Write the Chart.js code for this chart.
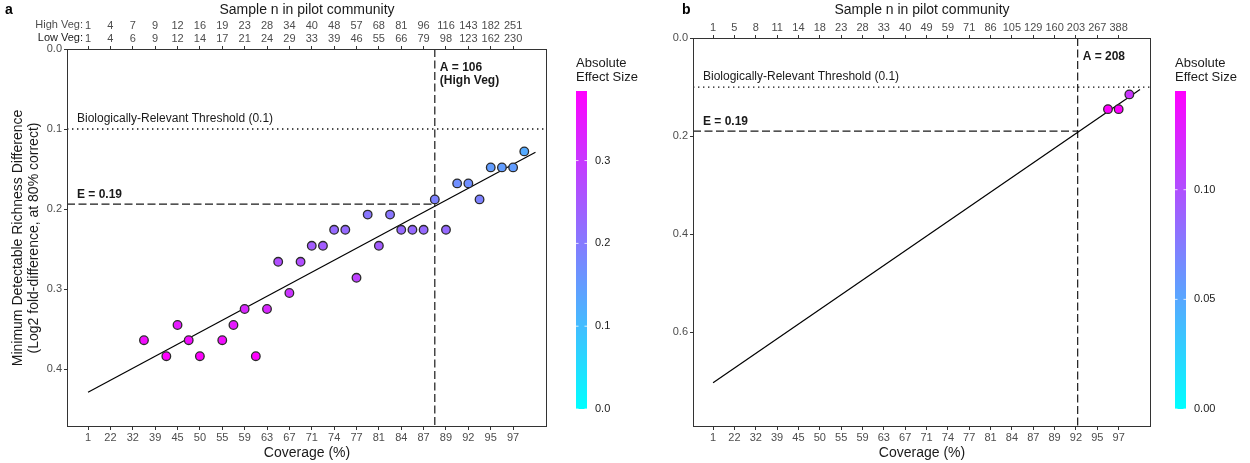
<!DOCTYPE html>
<html>
<head>
<meta charset="utf-8">
<script src="https://cdn.jsdelivr.net/npm/chart.js@4.4.1/dist/chart.umd.min.js"></script>
<style>
  html, body { margin: 0; padding: 0; background: #fff; }
  #wrap { position: relative; width: 1250px; height: 463px; overflow: hidden; }
  #panelA { position: absolute; left: 0; top: 0; }
  #panelB { position: absolute; left: 640px; top: 0; }
</style>
</head>
<body>
<div id="wrap">
  <canvas id="panelA" width="660" height="463"></canvas>
  <canvas id="panelB" width="610" height="463"></canvas>
</div>
<script>
// tick positions (sampling-level index) shared by both panels
const tickIndex = [1, 3, 5, 7, 9, 11, 13, 15, 17, 19, 21, 23, 25, 27, 29, 31, 33, 35, 37, 39];
const coverageLabels = ['1', '22', '32', '39', '45', '50', '55', '59', '63', '67', '71', '74', '77', '81', '84', '87', '89', '92', '95', '97'];
const highVegLabels = ['1', '4', '7', '9', '12', '16', '19', '23', '28', '34', '40', '48', '57', '68', '81', '96', '116', '143', '182', '251'];
const lowVegLabels = ['1', '4', '6', '9', '12', '14', '17', '21', '24', '29', '33', '39', '46', '55', '66', '79', '98', '123', '162', '230'];
const pilotLabelsB = ['1', '5', '8', '11', '14', '18', '23', '28', '33', '40', '49', '59', '71', '86', '105', '129', '160', '203', '267', '388'];

// panel a
const indexA = [6, 8, 9, 10, 11, 13, 14, 15, 16, 17, 18, 19, 20, 21, 22, 23, 24, 25, 26, 27, 28, 29, 30, 31, 32, 33, 34, 35, 36, 37, 38, 39, 40];
const mddA = [0.364, 0.384, 0.345, 0.364, 0.384, 0.364, 0.345, 0.325, 0.384, 0.325, 0.266, 0.305, 0.266, 0.246, 0.246, 0.226, 0.226, 0.286, 0.207, 0.246, 0.207, 0.226, 0.226, 0.226, 0.188, 0.226, 0.168, 0.168, 0.188, 0.148, 0.148, 0.148, 0.128];
const fitXA = [1, 41];
const fitYA = [0.429, 0.129];
const yTicksA = [0.0, 0.1, 0.2, 0.3, 0.4];
const colorTicksA = [0.0, 0.1, 0.2, 0.3];
const eValueA = 0.194;
const aIndexA = 32;

// panel b
const indexB = [38, 39, 40];
const mddB = [0.145, 0.145, 0.115];
const fitXB = [1, 41];
const fitYB = [0.703, 0.105];
const yTicksB = [0.0, 0.2, 0.4, 0.6];
const colorTicksB = [0.00, 0.05, 0.10];
const eValueB = 0.19;
const aIndexB = 35.16;

const threshold = 0.1;
const X_MIN = -0.88, X_MAX = 42.03;
const FONT = '"Liberation Sans", Arial, Helvetica, sans-serif';

// cyan -> magenta gradient
function effectColor(t) {
  t = Math.min(1, Math.max(0, t));
  return 'rgb(' + Math.round(255 * t) + ',' + Math.round(255 * (1 - t)) + ',255)';
}

// box, annotations, colour bar
const panelDecor = {
  id: 'panelDecor',
  afterDatasetsDraw(chart, args, opts) {
    const ctx = chart.ctx, area = chart.chartArea;
    const xs = chart.scales.x, ys = chart.scales.y;
    ctx.save();
    ctx.strokeStyle = '#333';
    ctx.lineWidth = 1;
    ctx.strokeRect(area.left + 0.5, area.top + 0.5, area.right - area.left - 1, area.bottom - area.top - 1);

    ctx.fillStyle = '#1a1a1a';
    ctx.textAlign = 'left';
    ctx.textBaseline = 'middle';
    ctx.font = '12px ' + FONT;
    ctx.fillText('Biologically-Relevant Threshold (0.1)', area.left + 10, ys.getPixelForValue(threshold) - 10.5);
    ctx.font = 'bold 12px ' + FONT;
    ctx.fillText(opts.eText, area.left + 10, ys.getPixelForValue(opts.eValue) - 10);
    const ax = xs.getPixelForValue(opts.aIndex) + 5;
    opts.aText.forEach((t, i) => ctx.fillText(t, ax, area.top + 19 + i * 13));
    ctx.restore();
  },
  afterDraw(chart, args, opts) {
    const ctx = chart.ctx;
    ctx.save();
    // panel letter
    ctx.fillStyle = '#000';
    ctx.font = 'bold 14px ' + FONT;
    ctx.textAlign = 'left';
    ctx.textBaseline = 'middle';
    ctx.fillText(opts.letter, opts.letterX, 10);

    // top axis row names
    if (opts.rowNames.length) {
      const x0 = chart.scales.x2.getPixelForValue(tickIndex[0]) - 5;
      ctx.font = '11px ' + FONT;
      ctx.textAlign = 'right';
      opts.rowNames.forEach((t, i) => {
        ctx.fillStyle = opts.rowColors[i];
        ctx.fillText(t, x0, opts.rowY[i]);
      });
    }

    // colour bar
    const bx = opts.barX, bw = 11, top = 91, bottom = 409;
    for (let y = top; y < bottom; y++) {
      const t = (bottom - y - 0.5) / (bottom - top);
      ctx.fillStyle = effectColor(t);
      ctx.fillRect(bx, y, bw, 1);
    }
    ctx.font = '11px ' + FONT;
    ctx.textAlign = 'left';
    ctx.textBaseline = 'middle';
    opts.colorTicks.forEach(v => {
      const y = bottom - v / opts.colorMax * (bottom - top);
      ctx.strokeStyle = 'rgba(255,255,255,0.8)';
      ctx.lineWidth = 1;
      ctx.beginPath();
      ctx.moveTo(bx, y); ctx.lineTo(bx + 2.5, y);
      ctx.moveTo(bx + bw - 2.5, y); ctx.lineTo(bx + bw, y);
      ctx.stroke();
      ctx.fillStyle = '#1a1a1a';
      ctx.fillText(v.toFixed(opts.colorDigits), bx + bw + 8, y);
    });
    ctx.font = '13px ' + FONT;
    ctx.fillStyle = '#1a1a1a';
    ctx.fillText('Absolute', bx, 63);
    ctx.fillText('Effect Size', bx, 77);
    ctx.restore();
  }
};

function makePanel(canvasId, p) {
  const cmax = Math.max(...p.mdd);
  const tickFont = { family: FONT, size: 11 };
  const lineStyle = { showLine: true, pointRadius: 0, fill: false, order: 1 };
  new Chart(document.getElementById(canvasId), {
    type: 'scatter',
    data: {
      datasets: [
        {
          data: p.index.map((x, i) => ({ x: x, y: p.mdd[i] })),
          pointRadius: 4.3,
          pointBackgroundColor: p.mdd.map(v => effectColor(v / cmax)),
          pointBorderColor: '#2b2b2b',
          pointBorderWidth: 1.3,
          order: 0
        },
        Object.assign({
          data: p.fitX.map((x, i) => ({ x: x, y: p.fitY[i] })),
          borderColor: '#000', borderWidth: 1.2
        }, lineStyle),
        Object.assign({
          data: [{ x: X_MIN, y: p.eValue }, { x: p.aIndex, y: p.eValue }],
          borderColor: '#1a1a1a', borderWidth: 1.2, borderDash: [8, 3.5]
        }, lineStyle),
        Object.assign({
          data: [{ x: p.aIndex, y: 0 }, { x: p.aIndex, y: p.yMax }],
          borderColor: '#1a1a1a', borderWidth: 1.2, borderDash: [8, 3.5]
        }, lineStyle),
        Object.assign({
          data: [{ x: X_MIN, y: threshold }, { x: X_MAX, y: threshold }],
          borderColor: '#111', borderWidth: 1.3, borderDash: [1.4, 3.6]
        }, lineStyle)
      ]
    },
    options: {
      responsive: false,
      animation: false,
      events: [],
      layout: { padding: { left: 0, right: p.padRight, top: 0, bottom: 0 } },
      plugins: {
        legend: { display: false },
        tooltip: { enabled: false },
        panelDecor: {
          letter: p.letter, letterX: p.letterX,
          eText: 'E = 0.19', eValue: p.eValue,
          aIndex: p.aIndex, aText: p.aText,
          rowNames: p.rowNames, rowColors: p.rowColors, rowY: p.rowY,
          barX: p.barX, colorTicks: p.colorTicks, colorMax: cmax, colorDigits: p.colorDigits
        }
      },
      scales: {
        x: {
          type: 'linear', position: 'bottom', min: X_MIN, max: X_MAX,
          afterBuildTicks: s => { s.ticks = tickIndex.map(v => ({ value: v })); },
          afterFit: s => { s.height = 36; },
          ticks: { autoSkip: false, maxRotation: 0, minRotation: 0, color: '#4d4d4d', font: tickFont, padding: 1,
            callback: (v, i) => coverageLabels[i] },
          grid: { drawOnChartArea: false, drawTicks: true, tickLength: 3, color: '#333' },
          border: { display: false },
          title: { display: true, text: 'Coverage (%)', color: '#1a1a1a', font: { family: FONT, size: 14 }, padding: { top: 0, bottom: 1 } }
        },
        x2: {
          type: 'linear', position: 'top', min: X_MIN, max: X_MAX,
          afterBuildTicks: s => { s.ticks = tickIndex.map(v => ({ value: v })); },
          afterFit: s => { s.height = p.topHeight; },
          ticks: { autoSkip: false, maxRotation: 0, minRotation: 0, color: '#4d4d4d', font: tickFont, padding: 0,
            callback: p.topLabel },
          grid: { drawOnChartArea: false, drawTicks: true, tickLength: 3, color: '#333' },
          border: { display: false },
          title: { display: true, text: 'Sample n in pilot community', color: '#1a1a1a', font: { family: FONT, size: 14 }, padding: { top: 2, bottom: 0 } }
        },
        y: {
          type: 'linear', reverse: true, min: 0, max: p.yMax,
          afterBuildTicks: s => { s.ticks = p.yTicks.map(v => ({ value: v })); },
          afterFit: s => { s.width = p.yWidth; },
          ticks: { color: '#4d4d4d', font: tickFont, padding: 2, callback: v => v.toFixed(1) },
          grid: { drawOnChartArea: false, drawTicks: true, tickLength: 3, color: '#333' },
          border: { display: false },
          title: { display: p.yTitle.length > 0, text: p.yTitle, color: '#1a1a1a', font: { family: FONT, size: 14, lineHeight: 1.15 }, padding: { top: 10, bottom: 0 } }
        }
      }
    },
    plugins: [panelDecor]
  });
}

makePanel('panelA', {
  index: indexA, mdd: mddA, fitX: fitXA, fitY: fitYA,
  eValue: eValueA, aIndex: aIndexA, aText: ['A = 106', '(High Veg)'],
  yMax: 0.4725, yTicks: yTicksA, yWidth: 67, topHeight: 49, padRight: 113,
  yTitle: ['Minimum Detectable Richness Difference', '(Log2 fold-difference, at 80% correct)'],
  topLabel: (v, i) => [highVegLabels[i], lowVegLabels[i]],
  rowNames: ['High Veg:', 'Low Veg:'], rowColors: ['#4d4d4d', '#1a1a1a'], rowY: [25, 38],
  letter: 'a', letterX: 5,
  barX: 576, colorTicks: colorTicksA, colorDigits: 1
});

makePanel('panelB', {
  index: indexB, mdd: mddB, fitX: fitXB, fitY: fitYB,
  eValue: eValueB, aIndex: aIndexB, aText: ['A = 208'],
  yMax: 0.793, yTicks: yTicksB, yWidth: 53, topHeight: 38, padRight: 99,
  yTitle: [],
  topLabel: (v, i) => pilotLabelsB[i],
  rowNames: [], rowColors: [], rowY: [],
  letter: 'b', letterX: 42,
  barX: 535, colorTicks: colorTicksB, colorDigits: 2
});
</script>
</body>
</html>
